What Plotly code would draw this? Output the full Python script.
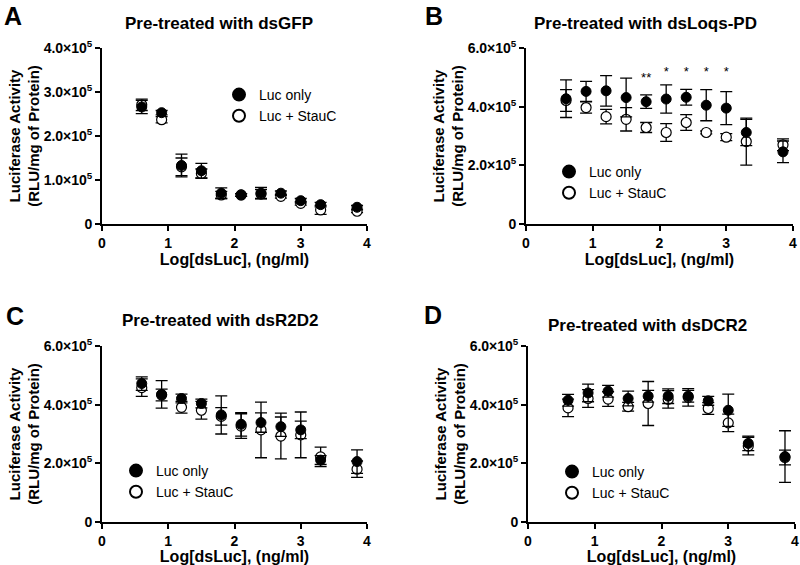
import plotly.graph_objects as go

# ---------------- data ----------------
log_dsluc = [0.6, 0.9, 1.2, 1.5, 1.8, 2.1, 2.4, 2.7, 3.0, 3.3, 3.85]

# Panel A  (values in RLU/mg)
a_luc = [2.66e5, 2.53e5, 1.33e5, 1.21e5, 0.70e5, 0.66e5, 0.70e5, 0.70e5, 0.53e5, 0.44e5, 0.38e5]
a_luc_err = [0.15e5, 0.05e5, 0.26e5, 0.17e5, 0.12e5, 0.03e5, 0.13e5, 0.05e5, 0.05e5, 0.05e5, 0.04e5]
a_stau = [2.71e5, 2.37e5, 1.30e5, 1.15e5, 0.66e5, 0.66e5, 0.68e5, 0.63e5, 0.47e5, 0.32e5, 0.29e5]
a_stau_err = [0.13e5, 0.07e5, 0.20e5, 0.10e5, 0.08e5, 0.03e5, 0.10e5, 0.04e5, 0.04e5, 0.10e5, 0.03e5]

# Panel B
b_luc = [4.27e5, 4.52e5, 4.54e5, 4.31e5, 4.17e5, 4.26e5, 4.32e5, 4.05e5, 3.95e5, 3.12e5, 2.46e5]
b_luc_err = [0.64e5, 0.34e5, 0.52e5, 0.66e5, 0.23e5, 0.48e5, 0.27e5, 0.53e5, 0.56e5, 0.45e5, 0.37e5]
b_stau = [4.21e5, 3.97e5, 3.66e5, 3.57e5, 3.29e5, 3.12e5, 3.46e5, 3.12e5, 2.96e5, 2.81e5, 2.70e5]
b_stau_err = [0.37e5, 0.19e5, 0.25e5, 0.40e5, 0.17e5, 0.30e5, 0.27e5, 0.05e5, 0.12e5, 0.80e5, 0.20e5]
b_sig_x = [1.8, 2.1, 2.4, 2.7, 3.0]
b_sig_y = [4.95e5, 5.15e5, 5.15e5, 5.15e5, 5.15e5]
b_sig_text = ["**", "*", "*", "*", "*"]

# Panel C
c_luc = [4.72e5, 4.35e5, 4.21e5, 4.04e5, 3.65e5, 3.33e5, 3.39e5, 3.25e5, 3.14e5, 2.11e5, 2.06e5]
c_luc_err = [0.23e5, 0.47e5, 0.15e5, 0.15e5, 0.65e5, 0.40e5, 0.33e5, 0.33e5, 0.30e5, 0.15e5, 0.40e5]
c_stau = [4.58e5, 4.33e5, 3.91e5, 3.81e5, 3.60e5, 3.27e5, 3.14e5, 2.93e5, 2.97e5, 2.22e5, 1.80e5]
c_stau_err = [0.30e5, 0.20e5, 0.20e5, 0.30e5, 0.30e5, 0.42e5, 0.95e5, 0.78e5, 0.78e5, 0.33e5, 0.28e5]

# Panel D
d_luc = [4.15e5, 4.40e5, 4.46e5, 4.21e5, 4.29e5, 4.29e5, 4.29e5, 4.13e5, 3.81e5, 2.68e5, 2.23e5]
d_luc_err = [0.20e5, 0.30e5, 0.20e5, 0.25e5, 0.20e5, 0.25e5, 0.20e5, 0.15e5, 0.55e5, 0.25e5, 0.88e5]
d_stau = [3.89e5, 4.21e5, 4.19e5, 3.93e5, 4.04e5, 4.18e5, 4.25e5, 3.87e5, 3.38e5, 2.59e5, 2.20e5]
d_stau_err = [0.30e5, 0.30e5, 0.25e5, 0.15e5, 0.75e5, 0.30e5, 0.30e5, 0.20e5, 0.30e5, 0.30e5, 0.25e5]

titles = ["Pre-treated with dsGFP", "Pre-treated with dsLoqs-PD",
          "Pre-treated with dsR2D2", "Pre-treated with dsDCR2"]
letters = ["A", "B", "C", "D"]
x_ticks = [0, 1, 2, 3, 4]
y_ticks_a = [0, 1e5, 2e5, 3e5, 4e5]
y_ticks_a_text = ["0", "1.0×10<sup>5</sup>", "2.0×10<sup>5</sup>", "3.0×10<sup>5</sup>", "4.0×10<sup>5</sup>"]
y_ticks_b = [0, 2e5, 4e5, 6e5]
y_ticks_b_text = ["0", "2.0×10<sup>5</sup>", "4.0×10<sup>5</sup>", "6.0×10<sup>5</sup>"]
x_title = "Log[dsLuc], (ng/ml)"
y_title = "Luciferase Activity<br>(RLU/mg of Protein)"
names = ["Luc only", "Luc + StauC"]

# ---------------- figure ----------------
W, H = 800, 565
FONT = "Liberation Sans, Arial, sans-serif"


def fx(px):
    return px / W


def fy(py):
    return 1 - py / H


# plot areas in screen pixels: (left, right, top, bottom)
boxes = [(102, 367, 48, 224), (526, 793, 48, 224),
         (102, 367, 346, 522), (528, 795, 346, 522)]
letter_pos = [(13, 0), (434, 0), (15, 300), (433, 299)]   # top of text box
title_pos = [(219, 23), (645, 23), (220, 320), (647, 325)]
legend_marker = [(240, 95), (570, 172), (137, 471), (573, 472)]

panels = [
    (a_luc, a_luc_err, a_stau, a_stau_err, 4e5, y_ticks_a, y_ticks_a_text),
    (b_luc, b_luc_err, b_stau, b_stau_err, 6e5, y_ticks_b, y_ticks_b_text),
    (c_luc, c_luc_err, c_stau, c_stau_err, 6e5, y_ticks_b, y_ticks_b_text),
    (d_luc, d_luc_err, d_stau, d_stau_err, 6e5, y_ticks_b, y_ticks_b_text),
]

fig = go.Figure()
layout = dict(
    width=W, height=H,
    margin=dict(l=0, r=0, t=0, b=0),
    paper_bgcolor="white", plot_bgcolor="white",
    font=dict(family=FONT, color="black"),
    annotations=[],
)

for i, (luc, luc_err, stau, stau_err, ymax, yt, ytt) in enumerate(panels):
    n = i + 1
    xa = "x" if n == 1 else f"x{n}"
    ya = "y" if n == 1 else f"y{n}"
    leg = "legend" if n == 1 else f"legend{n}"
    L, R, T, B = boxes[i]

    fig.add_trace(go.Scatter(
        x=log_dsluc, y=stau, mode="markers", name=names[1],
        xaxis=xa, yaxis=ya, legend=leg, legendrank=2,
        marker=dict(symbol="circle", size=10, color="white",
                    line=dict(color="black", width=1.2)),
        error_y=dict(type="data", array=stau_err, color="black",
                     thickness=1.3, width=6),
        cliponaxis=False,
    ))
    fig.add_trace(go.Scatter(
        x=log_dsluc, y=luc, mode="markers", name=names[0],
        xaxis=xa, yaxis=ya, legend=leg, legendrank=1,
        marker=dict(symbol="circle", size=10, color="black",
                    line=dict(color="black", width=1)),
        error_y=dict(type="data", array=luc_err, color="black",
                     thickness=1.3, width=6),
        cliponaxis=False,
    ))

    axis_common = dict(
        showline=True, linecolor="black", linewidth=1.8,
        ticks="outside", ticklen=5, tickwidth=1.8, tickcolor="black",
        showgrid=False, zeroline=False, mirror=False, automargin=False,
    )
    layout["xaxis" if n == 1 else f"xaxis{n}"] = dict(
        domain=[fx(L), fx(R)], anchor=ya, range=[0, 4],
        tickvals=x_ticks,
        tickfont=dict(family=FONT, size=14, weight="bold"),
        title=dict(text=x_title, font=dict(family=FONT, size=16, weight="bold"), standoff=3),
        **axis_common,
    )
    layout["yaxis" if n == 1 else f"yaxis{n}"] = dict(
        domain=[fy(B), fy(T)], anchor=xa, range=[0, ymax],
        tickvals=yt, ticktext=ytt,
        tickfont=dict(family=FONT, size=14, weight="bold"),
        title=dict(text=y_title, font=dict(family=FONT, size=15, weight="bold"), standoff=0),
        **axis_common,
    )
    mx, my = legend_marker[i]
    layout[leg] = dict(
        x=fx(mx - 21), y=fy(my - 16), xanchor="left", yanchor="top",
        bgcolor="rgba(0,0,0,0)", borderwidth=0,
        font=dict(family=FONT, size=14, color="black"),
        itemsizing="constant", tracegroupgap=0,
    )
    px, py = letter_pos[i]
    layout["annotations"].append(dict(
        text=letters[i], x=fx(px), y=fy(py), xref="paper", yref="paper",
        xanchor="center", yanchor="top",
        showarrow=False, font=dict(family=FONT, size=25, weight="bold"),
    ))
    tx, ty = title_pos[i]
    layout["annotations"].append(dict(
        text=titles[i], x=fx(tx), y=fy(ty), xref="paper", yref="paper",
        xanchor="center", yanchor="middle",
        showarrow=False, font=dict(family=FONT, size=17, weight="bold"),
    ))

fig.add_trace(go.Scatter(
    x=b_sig_x, y=b_sig_y, mode="text", text=b_sig_text,
    textfont=dict(family=FONT, size=13, color="black"),
    xaxis="x2", yaxis="y2", showlegend=False, hoverinfo="skip",
))

fig.update_layout(**layout)
fig.write_html("out.html", config={"displayModeBar": False},
               post_script="document.body.style.margin='0px';")
